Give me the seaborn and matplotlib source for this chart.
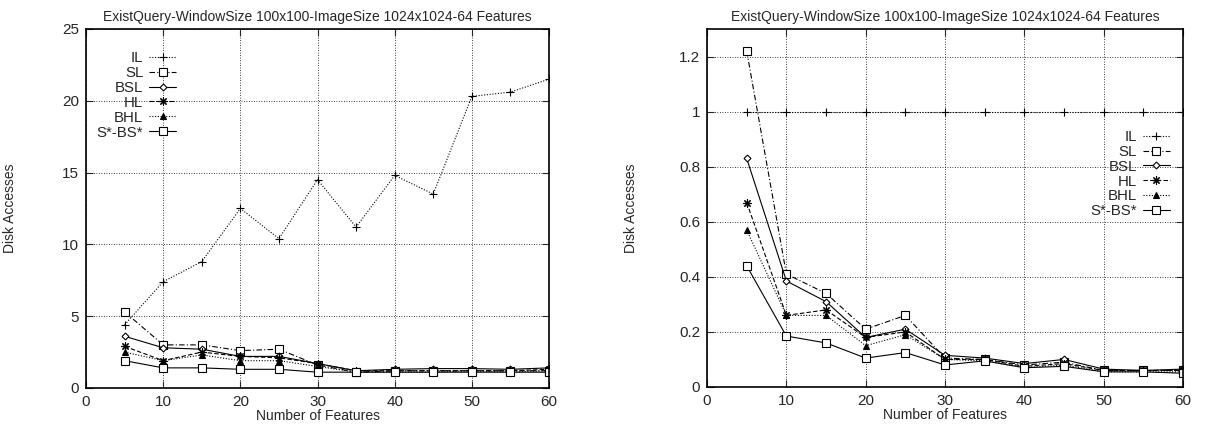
import numpy as np
import matplotlib
matplotlib.use('Agg')
import matplotlib.pyplot as plt
import matplotlib.ticker as mticker
import pandas as pd
import seaborn as sns

# 数据
features = [5, 10, 15, 20, 25, 30, 35, 40, 45, 50, 55, 60]
methods = ['IL', 'SL', 'BSL', 'HL', 'BHL', 'S*-BS*']

# 左图
left_il = [4.4, 7.4, 8.8, 12.5, 10.4, 14.5, 11.2, 14.8, 13.5, 20.3, 20.6, 21.5]
left_sl = [5.3, 3.0, 3.0, 2.6, 2.7, 1.6, 1.1, 1.2, 1.2, 1.2, 1.2, 1.2]
left_bsl = [3.6, 2.8, 2.7, 2.2, 2.2, 1.7, 1.2, 1.3, 1.35, 1.35, 1.3, 1.4]
left_hl = [2.9, 1.9, 2.5, 2.2, 2.1, 1.7, 1.2, 1.2, 1.2, 1.2, 1.2, 1.3]
left_bhl = [2.5, 1.9, 2.3, 1.9, 1.9, 1.5, 1.1, 1.1, 1.1, 1.2, 1.1, 1.2]
left_sbs = [1.9, 1.4, 1.4, 1.3, 1.3, 1.1, 1.1, 1.1, 1.1, 1.1, 1.1, 1.1]

# 右图
right_il = [1.0, 1.0, 1.0, 1.0, 1.0, 1.0, 1.0, 1.0, 1.0, 1.0, 1.0, 1.0]
right_sl = [1.22, 0.41, 0.34, 0.21, 0.26, 0.105, 0.10, 0.08, 0.09, 0.06, 0.06, 0.06]
right_bsl = [0.83, 0.385, 0.31, 0.18, 0.21, 0.115, 0.105, 0.085, 0.10, 0.065, 0.06, 0.065]
right_hl = [0.67, 0.26, 0.28, 0.18, 0.20, 0.10, 0.10, 0.075, 0.085, 0.06, 0.06, 0.06]
right_bhl = [0.57, 0.26, 0.26, 0.15, 0.19, 0.10, 0.095, 0.07, 0.08, 0.055, 0.055, 0.055]
right_sbs = [0.44, 0.185, 0.16, 0.105, 0.125, 0.08, 0.095, 0.07, 0.075, 0.055, 0.055, 0.05]

title = 'ExistQuery-WindowSize 100x100-ImageSize 1024x1024-64 Features'

# 线型和标记
styles = {
    'IL': dict(linestyle=(0, (1, 1.5)), marker='+', markersize=6, mfc='k'),
    'SL': dict(linestyle=(0, (5, 2, 1, 2)), marker='s', markersize=5.5, mfc='white'),
    'BSL': dict(linestyle='-', marker='D', markersize=3.5, mfc='white'),
    'HL': dict(linestyle=(0, (4, 2)), marker=(8, 2, 0), markersize=6, mfc='k'),
    'BHL': dict(linestyle=(0, (1, 1.5)), marker='^', markersize=4.5, mfc='k'),
    'S*-BS*': dict(linestyle='-', marker='s', markersize=5.5, mfc='white'),
}

sns.set_style('ticks')
plt.rcParams['font.family'] = ['Liberation Sans', 'DejaVu Sans']
fs_title = 10
fs_tick = 11
fs_leg = 10.8

fig = plt.figure(figsize=(12.29, 4.28), dpi=100)
ax1 = fig.add_axes([0.070, 0.0935, 0.3767, 0.839])
ax2 = fig.add_axes([0.5753, 0.0958, 0.3873, 0.8364])


def draw(ax, series, ymax, ystep, legend_kw, ylab_x):
    df = pd.DataFrame({'features': features})
    for name, vals in zip(methods, series):
        df[name] = vals
    for name in methods:
        st = styles[name]
        sns.lineplot(data=df, x='features', y=name, ax=ax, color='k',
                     linewidth=0.8, markeredgecolor='k', markeredgewidth=0.8,
                     label=name, **st)
    ax.set_xlim(0, 60)
    ax.set_ylim(0, ymax)
    ax.set_xticks(np.arange(0, 61, 10))
    ax.set_yticks(np.arange(0, ymax + 1e-9, ystep))
    ax.yaxis.set_major_formatter(mticker.FuncFormatter(lambda v, p: '%g' % round(v, 3)))
    ax.grid(True, color='k', linestyle=(0, (1, 2)), linewidth=0.6)
    ax.tick_params(direction='in', top=True, right=True, length=5, width=0.8,
                   labelsize=fs_tick, pad=5)
    for s in ax.spines.values():
        s.set_linewidth(1.2)
        s.set_color('k')
    ax.set_title(title, fontsize=fs_title, pad=6)
    ax.set_xlabel('Number of Features', fontsize=fs_title, labelpad=0)
    ax.set_ylabel('Disk Accesses', fontsize=fs_title)
    ax.yaxis.set_label_coords(ylab_x, 0.5)
    ax.legend(frameon=False, markerfirst=False, numpoints=1, fontsize=fs_leg,
              handlelength=1.8, handletextpad=0.4, labelspacing=0.06,
              borderaxespad=0.0, **legend_kw)


draw(ax1, [left_il, left_sl, left_bsl, left_hl, left_bhl, left_sbs], 25, 5,
     dict(loc='upper left', bbox_to_anchor=(0.01, 0.955)), -0.15)
draw(ax2, [right_il, right_sl, right_bsl, right_hl, right_bhl, right_sbs], 1.3, 0.2,
     dict(loc='upper right', bbox_to_anchor=(0.985, 0.735)), -0.145)

fig.savefig('out.png', dpi=100)
